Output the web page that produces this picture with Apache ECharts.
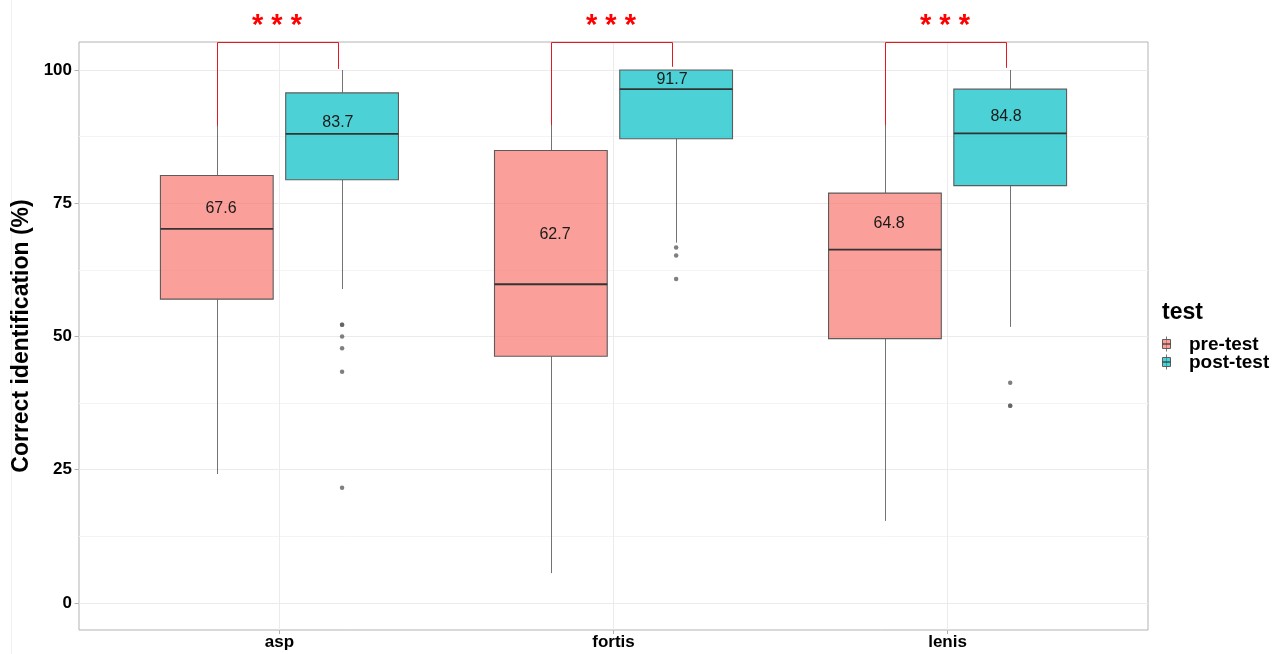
<!DOCTYPE html>
<html>
<head>
<meta charset="utf-8">
<script src="https://cdn.jsdelivr.net/npm/echarts@6/dist/echarts.min.js"></script>
<style>
  html, body { margin: 0; padding: 0; background: #ffffff; }
  #chart { width: 1276px; height: 654px; }
</style>
</head>
<body>
<div id="chart"></div>
<script>
// ---- data ----
const categories = ['asp', 'fortis', 'lenis'];
const testGroups = ['pre-test', 'post-test'];
// five-number summaries per category: [whisker low, Q1, median, Q3, whisker high]
const preBoxes = [
  [24.2, 57.0, 70.2, 80.2, 100],
  [5.6, 46.3, 59.8, 84.9, 100],
  [15.4, 49.6, 66.3, 76.9, 95.6]
];
const postBoxes = [
  [58.9, 79.4, 88.0, 95.7, 100],
  [67.6, 87.1, 96.4, 100, 100],
  [51.8, 78.3, 88.1, 96.4, 100]
];
const preMeans = [67.6, 62.7, 64.8];
const postMeans = [83.7, 91.7, 84.8];
const preOutliers = [[], [], []];
const postOutliers = [
  [52.2, 52.2, 50.0, 47.8, 43.4, 21.6],
  [66.7, 65.2, 60.8],
  [41.3, 37.0, 37.0]
];
// significance brackets: top of bracket and where each leg stops
const bracketTop = [105.3, 105.3, 105.3];
const bracketLeftEnd = [89.5, 89.7, 89.7];
const bracketRightEnd = [100.2, 100.6, 100.4];
const significance = ['***', '***', '***'];
const yTicks = [0, 25, 50, 75, 100];
const yMinorTicks = [12.5, 37.5, 62.5, 87.5];

// ---- styling / geometry ----
const FONT = "'Liberation Sans', Arial, Helvetica, sans-serif";
const PRE_FILL = 'rgba(248,118,109,0.7)';
const POST_FILL = 'rgba(0,191,196,0.7)';
const BOX_STROKE = '#5c5c5c';
const MEDIAN_STROKE = '#333333';
const WHISKER = '#737373';
const DODGE = 0.1875;
const LABEL_DODGE = 0.175;
const BOX_W = 0.3375;
const Y_MIN = -5.07, Y_MAX = 105.25;

function boxData(boxes, means, side) {
  return boxes.map((b, i) => [i + 1 + side * DODGE, b[0], b[1], b[2], b[3], b[4], means[i], side]);
}
function outlierData(outs, side) {
  const res = [];
  outs.forEach((arr, i) => arr.forEach(v => res.push([i + 1 + side * DODGE, v])));
  return res;
}

function renderBox(fill) {
  return function (params, api) {
    const x = api.value(0);
    const side = api.value(7);
    const half = api.size([BOX_W, 0])[0] / 2;
    const px = api.coord([x, 0])[0];
    const cx = Math.round(px) + 0.5;
    const yLo = api.coord([x, api.value(1)])[1];
    const yQ1 = api.coord([x, api.value(2)])[1];
    const yMed = api.coord([x, api.value(3)])[1];
    const yQ3 = api.coord([x, api.value(4)])[1];
    const yHi = api.coord([x, api.value(5)])[1];
    const mean = api.value(6);
    const yMean = api.coord([x, mean])[1];
    const labelX = api.coord([x - side * DODGE + side * LABEL_DODGE, 0])[0];
    return {
      type: 'group',
      children: [
        { type: 'line', shape: { x1: cx, y1: yHi, x2: cx, y2: yQ3 }, style: { stroke: WHISKER, lineWidth: 1 } },
        { type: 'line', shape: { x1: cx, y1: yQ1, x2: cx, y2: yLo }, style: { stroke: WHISKER, lineWidth: 1 } },
        { type: 'rect', shape: { x: px - half, y: yQ3, width: half * 2, height: yQ1 - yQ3 },
          style: { fill: fill, stroke: BOX_STROKE, lineWidth: 1.1 } },
        { type: 'line', shape: { x1: px - half, y1: yMed, x2: px + half, y2: yMed },
          style: { stroke: MEDIAN_STROKE, lineWidth: 1.8 } },
        { type: 'text', x: labelX, y: yMean - 34.5,
          style: { text: mean.toFixed(1), fill: '#1a1a1a', font: '16px ' + FONT, align: 'center', verticalAlign: 'middle' } }
      ]
    };
  };
}

function renderBracket(params, api) {
  const c = api.value(0);
  const xl = Math.round(api.coord([c - DODGE, 0])[0]) + 0.5;
  const xr = Math.round(api.coord([c + LABEL_DODGE, 0])[0]) + 0.5;
  const yTop = Math.round(api.coord([c, api.value(1)])[1]) + 0.5;
  const yL = api.coord([c, api.value(2)])[1];
  const yR = api.coord([c, api.value(3)])[1];
  const stars = significance[params.dataIndex].split('').join(' ');
  return {
    type: 'group',
    children: [
      { type: 'polyline', shape: { points: [[xl, yL], [xl, yTop], [xr, yTop], [xr, yR]] },
        style: { stroke: '#e01a20', lineWidth: 1, fill: null } },
      { type: 'text', x: (xl + xr) / 2 - 1, y: yTop - 17,
        style: { text: stars, fill: '#ff0000', font: 'bold 29px ' + FONT, align: 'center', verticalAlign: 'middle' } }
    ]
  };
}

const chart = echarts.init(document.getElementById('chart'), null, { renderer: 'canvas' });

const legendX = 1162;
function legendKey(y, fill) {
  return {
    type: 'group',
    children: [
      { type: 'line', shape: { x1: legendX + 4.5, y1: y - 7.5, x2: legendX + 4.5, y2: y + 7.5 }, style: { stroke: WHISKER, lineWidth: 1 } },
      { type: 'rect', shape: { x: legendX + 0.5, y: y - 4.5, width: 8, height: 9 }, style: { fill: fill, stroke: BOX_STROKE, lineWidth: 1 } },
      { type: 'line', shape: { x1: legendX + 0.5, y1: y, x2: legendX + 8.5, y2: y }, style: { stroke: MEDIAN_STROKE, lineWidth: 1.2 } }
    ]
  };
}

chart.setOption({
  animation: false,
  backgroundColor: '#ffffff',
  grid: {
    left: 79, top: 42, width: 1069, height: 588,
    show: true, borderColor: '#b3b3b3', borderWidth: 1,
    containLabel: false, outerBoundsMode: 'none'
  },
  xAxis: {
    type: 'value', min: 0.4, max: 3.6,
    axisLine: { show: false, onZero: false },
    axisTick: { show: true, customValues: [1, 2, 3], length: 4, lineStyle: { color: '#b3b3b3' } },
    axisLabel: {
      customValues: [1, 2, 3],
      formatter: v => categories[Math.round(v) - 1],
      fontFamily: FONT, fontSize: 17, fontWeight: 'bold', color: '#000', margin: 4
    },
    splitLine: { show: true, lineStyle: { color: '#ebebeb', width: 1 } }
  },
  yAxis: [{
    type: 'value', min: Y_MIN, max: Y_MAX,
    name: 'Correct identification (%)', nameLocation: 'middle', nameGap: 41, nameRotate: 90,
    nameTextStyle: { fontFamily: FONT, fontSize: 23, fontWeight: 'bold', color: '#000' },
    axisLine: { show: false, onZero: false },
    axisTick: { show: true, customValues: yTicks, length: 4.5, lineStyle: { color: '#b3b3b3' } },
    axisLabel: { customValues: yTicks, fontFamily: FONT, fontSize: 17, fontWeight: 'bold', color: '#000', margin: 7 },
    splitLine: { show: true, lineStyle: { color: '#ebebeb', width: 1 } }
  }, {
    type: 'value', min: Y_MIN, max: Y_MAX, position: 'left',
    axisLine: { show: false, onZero: false },
    axisTick: { show: false, customValues: yMinorTicks },
    axisLabel: { show: false, customValues: yMinorTicks },
    splitLine: { show: true, lineStyle: { color: '#f4f4f4', width: 1 } }
  }],
  series: [
    { name: testGroups[0], type: 'custom', renderItem: renderBox(PRE_FILL), clip: false, z: 2,
      encode: { x: 0, y: [1, 2, 3, 4, 5] }, data: boxData(preBoxes, preMeans, -1) },
    { name: testGroups[1], type: 'custom', renderItem: renderBox(POST_FILL), clip: false, z: 2,
      encode: { x: 0, y: [1, 2, 3, 4, 5] }, data: boxData(postBoxes, postMeans, 1) },
    { type: 'scatter', symbol: 'circle', symbolSize: 4.5, z: 3, silent: true,
      itemStyle: { color: '#5f5f5f' }, data: outlierData(preOutliers, -1).concat(outlierData(postOutliers, 1)) },
    { type: 'custom', renderItem: renderBracket, clip: false, z: 4,
      encode: { x: 0, y: [1, 2, 3] },
      data: categories.map((c, i) => [i + 1, bracketTop[i], bracketLeftEnd[i], bracketRightEnd[i]]) }
  ],
  graphic: [
    { type: 'line', shape: { x1: 11.5, y1: 0, x2: 11.5, y2: 654 }, style: { stroke: '#f0f0f0', lineWidth: 1 }, silent: true },
    { type: 'text', left: legendX, top: 301, style: { text: 'test', font: 'bold 23px ' + FONT, fill: '#000' } },
    legendKey(344, PRE_FILL),
    legendKey(362, POST_FILL),
    { type: 'text', left: 1189, top: 335, style: { text: testGroups[0], font: 'bold 19px ' + FONT, fill: '#000' } },
    { type: 'text', left: 1189, top: 353, style: { text: testGroups[1], font: 'bold 19px ' + FONT, fill: '#000' } }
  ]
});
</script>
</body>
</html>
